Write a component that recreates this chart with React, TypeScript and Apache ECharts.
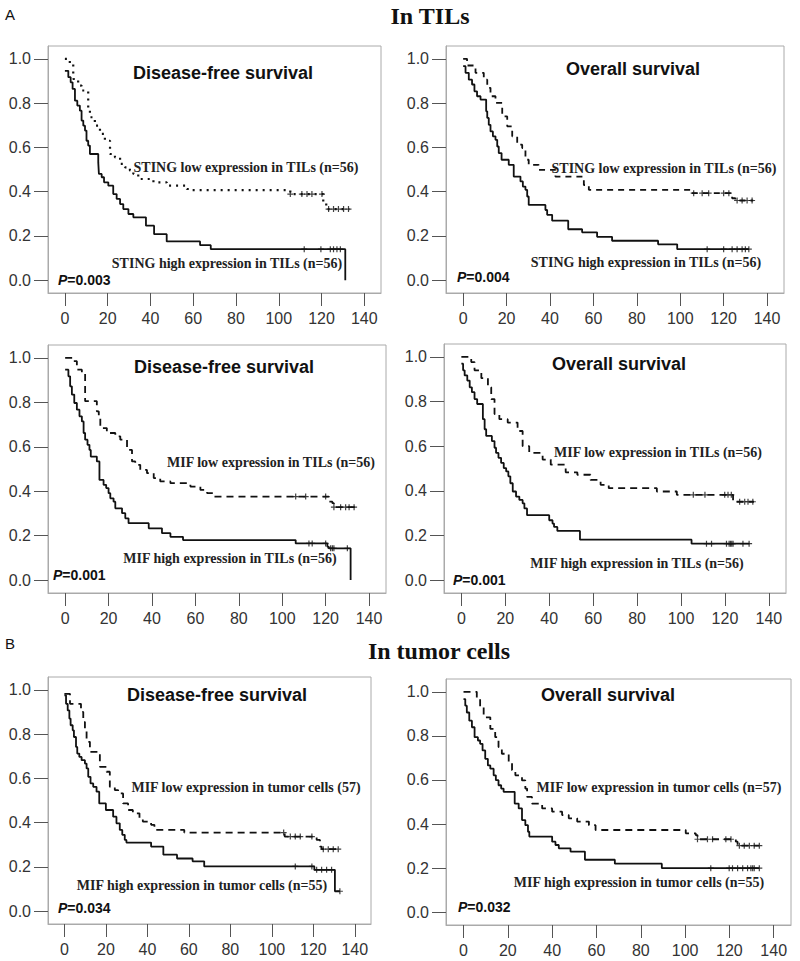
import React, { useEffect, useRef } from "react";
import * as echarts from "echarts";

// ---------- DATA ----------
const xTicks = [0, 20, 40, 60, 80, 100, 120, 140];
const yTicks = [0, 0.2, 0.4, 0.6, 0.8, 1.0];

// Panel 1: DFS, STING in TILs
const dfsStingLow = [[0,1.0],[2.3,0.977],[3.9,0.909],[6.2,0.879],[7.8,0.857],[10.9,0.766],[11.7,0.736],[14,0.698],[16.4,0.661],[18.7,0.630],[21.1,0.570],[23.4,0.555],[25.8,0.525],[28.1,0.510],[30.4,0.495],[32,0.480],[34.3,0.457],[41.4,0.442],[47.6,0.427],[57,0.412],[59.3,0.407],[105.4,0.389],[120.8,0.351],[122.2,0.321],[133.0,0.321]];
const dfsStingHigh = [[0,0.946],[1.6,0.917],[2.7,0.894],[3.6,0.864],[4.7,0.811],[5.8,0.789],[7.0,0.766],[7.8,0.721],[8.6,0.698],[9.4,0.676],[10.1,0.630],[10.9,0.608],[11.7,0.570],[15.6,0.532],[15.9,0.480],[17.2,0.465],[18.3,0.442],[20.3,0.427],[22.6,0.389],[24.2,0.367],[25.8,0.344],[27.3,0.321],[29.7,0.299],[32,0.284],[37.9,0.246],[41.7,0.208],[47.6,0.175],[63.2,0.158],[68.2,0.140],[131.1,0]];
const dfsStingLowCens = [105.4,110.8,113.2,115.5,120.2,123.3,125.6,127.9,130.3,132.6];
const dfsStingHighCens = [111.9,119.7,124.1,125.6,127.2,128.8];

// Panel 2: OS, STING in TILs
const osStingLow = [[0,1.0],[1.8,0.970],[5.7,0.937],[9.5,0.906],[11.1,0.869],[12.6,0.831],[14.9,0.801],[18.0,0.740],[20.3,0.695],[22.6,0.650],[24.9,0.612],[27.2,0.597],[28.7,0.544],[30.2,0.521],[34.8,0.498],[42.5,0.468],[55.6,0.430],[57.9,0.408],[104.7,0.393],[123.9,0.370],[125.4,0.360],[133.6,0.360]];
const osStingHigh = [[0,0.967],[1.1,0.937],[2.6,0.906],[4.1,0.884],[5.2,0.853],[6.4,0.831],[8.0,0.816],[10.6,0.763],[11.1,0.733],[11.8,0.702],[12.6,0.672],[13.7,0.650],[14.9,0.634],[15.7,0.604],[16.4,0.574],[17.7,0.544],[21.0,0.521],[23.3,0.468],[26.4,0.446],[27.5,0.423],[28.7,0.408],[29.5,0.378],[30.2,0.340],[37.9,0.317],[38.7,0.295],[41.0,0.269],[48.4,0.230],[54.8,0.216],[61.7,0.196],[68.6,0.178],[89.8,0.162],[98.6,0.140],[131.6,0.140]];
const osStingLowCens = [106.2,110.1,113.1,120.0,122.4,126.2,128.5,130.8,133.1];
const osStingHighCens = [112.4,120.0,123.9,126.2,128.5,130.0,131.6];

// Panel 3: DFS, MIF in TILs
const dfsMifTilLow = [[0,1.0],[3.8,0.985],[5.4,0.947],[7.7,0.930],[9.2,0.805],[14.6,0.759],[15.5,0.737],[16.2,0.684],[19.2,0.662],[23.1,0.647],[25.4,0.632],[28.5,0.586],[30.8,0.534],[32.3,0.519],[34.6,0.496],[37.7,0.481],[40.8,0.459],[43.8,0.444],[48.5,0.436],[57.7,0.421],[62.3,0.406],[65.4,0.391],[68.5,0.376],[121.5,0.353],[123.1,0.346],[123.8,0.328],[133.6,0.328]];
const dfsMifTilHigh = [[0,0.947],[1.5,0.917],[2.3,0.872],[3.1,0.835],[4.2,0.797],[5.4,0.767],[6.6,0.737],[7.7,0.714],[8.5,0.662],[9.2,0.632],[10.3,0.609],[11.2,0.586],[11.8,0.556],[14.6,0.534],[15.8,0.451],[17.7,0.429],[18.9,0.414],[20.0,0.391],[20.8,0.368],[22.3,0.353],[23.1,0.323],[26.2,0.301],[27.7,0.278],[29.2,0.256],[38.5,0.233],[44.6,0.211],[48.5,0.195],[54.3,0.180],[106.2,0.165],[120.8,0.150],[121.5,0.143],[131.5,0]];
const dfsMifTilLowCens = [106.2,110.8,120.0,123.8,126.9,129.2,130.8,133.1];
const dfsMifTilHighCens = [112.3,113.8,120.0,122.3,123.1,123.8,130.0];

// Panel 4: OS, MIF in TILs
const osMifTilLow = [[0,1.0],[4.5,0.977],[6.0,0.940],[9.1,0.905],[12.1,0.864],[13.6,0.811],[15.1,0.744],[17.3,0.721],[21.1,0.706],[25.6,0.668],[27.9,0.600],[30.9,0.570],[37.0,0.540],[40.7,0.517],[47.5,0.483],[52.8,0.472],[58.8,0.449],[63.4,0.427],[67.1,0.412],[89.0,0.397],[98.1,0.382],[123.7,0.351],[133.2,0.351]];
const osMifTilHigh = [[0,0.970],[0.8,0.940],[1.5,0.917],[2.7,0.894],[3.8,0.864],[4.8,0.842],[6.0,0.811],[7.2,0.789],[9.8,0.721],[10.6,0.676],[11.3,0.646],[13.9,0.623],[15.1,0.593],[15.8,0.570],[16.9,0.548],[18.1,0.525],[19.3,0.502],[20.4,0.487],[21.4,0.465],[22.3,0.434],[23.4,0.397],[24.9,0.374],[26.4,0.359],[27.9,0.344],[28.7,0.321],[29.9,0.291],[40.0,0.268],[41.5,0.253],[42.2,0.238],[43.7,0.220],[54.0,0.181],[104.8,0.163],[131.2,0.163]];
const osMifTilLowCens = [105.6,110.9,119.9,121.4,122.9,126.7,129.0,130.5,132.7];
const osMifTilHighCens = [111.6,113.9,120.7,121.9,122.5,123.1,123.7,128.2,131.0];

// Panel 5: DFS, MIF in tumor cells
const dfsMifTumLow = [[0,0.982],[2.7,0.937],[8.0,0.900],[9.1,0.855],[9.9,0.817],[10.7,0.765],[12.3,0.720],[17.1,0.652],[20.3,0.630],[21.9,0.562],[24.3,0.547],[25.9,0.532],[28.3,0.487],[30.7,0.457],[33.0,0.442],[36.2,0.420],[37.8,0.405],[41.8,0.390],[43.4,0.367],[57.8,0.355],[106.2,0.337],[121.6,0.322],[123.2,0.292],[124.0,0.280],[132.8,0.280]];
const dfsMifTumHigh = [[0,0.975],[0.8,0.937],[1.6,0.907],[2.4,0.870],[3.0,0.840],[4.0,0.817],[4.6,0.787],[5.6,0.742],[6.2,0.712],[7.2,0.697],[8.3,0.682],[9.9,0.667],[10.7,0.645],[11.5,0.607],[12.6,0.577],[13.9,0.562],[15.5,0.540],[16.8,0.487],[20.0,0.457],[23.5,0.427],[25.1,0.397],[26.7,0.367],[27.9,0.345],[29.1,0.322],[29.9,0.310],[41.8,0.292],[47.7,0.255],[54.3,0.238],[61.8,0.225],[67.4,0.202],[120.5,0.187],[130.4,0.090],[132.8,0.090]];
const dfsMifTumLowCens = [105.7,108.9,111.3,113.7,119.3,124.8,127.2,129.6,132.0];
const dfsMifTumHighCens = [111.3,119.3,121.6,124.0,126.4,128.8,132.8];

// Panel 6: OS, MIF in tumor cells
const osMifTumLow = [[0,1.0],[6.0,0.967],[7.5,0.929],[9.1,0.884],[12.1,0.832],[14.3,0.794],[15.8,0.749],[17.3,0.719],[20.4,0.681],[21.9,0.644],[23.4,0.621],[26.4,0.598],[27.9,0.561],[28.7,0.523],[30.9,0.493],[35.5,0.471],[40.0,0.456],[44.5,0.441],[47.5,0.426],[51.3,0.411],[56.6,0.395],[59.6,0.373],[100.3,0.358],[104.8,0.350],[105.6,0.331],[122.9,0.320],[123.7,0.302],[133.5,0.302]];
const osMifTumHigh = [[0,0.967],[0.8,0.937],[1.5,0.906],[2.6,0.869],[3.8,0.839],[5.0,0.794],[6.5,0.779],[7.5,0.764],[8.6,0.734],[9.8,0.696],[11.0,0.666],[12.1,0.651],[13.6,0.621],[14.6,0.599],[15.8,0.576],[17.0,0.561],[18.1,0.546],[23.1,0.493],[24.9,0.471],[26.4,0.418],[27.9,0.395],[29.1,0.365],[29.7,0.343],[40.0,0.320],[41.5,0.305],[43.0,0.290],[48.3,0.275],[54.8,0.238],[68.3,0.220],[89.5,0.200],[133.5,0.200]];
const osMifTumLowCens = [105.6,110.1,112.4,118.4,120.7,124.5,126.7,129.0,131.2,133.5];
const osMifTumHighCens = [111.6,119.9,121.4,123.7,126.0,128.2,129.7,130.5,131.2,133.5];

const panelTitles = ["Disease-free survival","Overall survival","Disease-free survival","Overall survival","Disease-free survival","Overall survival"];
const lowLabels = ["STING low expression in TILs (n=56)","STING low expression in TILs (n=56)","MIF low expression in TILs (n=56)","MIF low expression in TILs (n=56)","MIF low expression in tumor cells (57)","MIF low expression in tumor cells (n=57)"];
const highLabels = ["STING high expression in TILs (n=56)","STING high expression in TILs (n=56)","MIF high expression in TILs (n=56)","MIF high expression in TILs (n=56)","MIF high expression in tumor cells (n=55)","MIF high expression in tumor cells (n=55)"];
const pValues = ["0.003","0.004","0.001","0.001","0.034","0.032"];

// ---------- LAYOUT ----------
const grids = [
  { left: 48, top: 46, width: 333, height: 247 },
  { left: 446, top: 46, width: 338, height: 247 },
  { left: 48, top: 345, width: 338, height: 248 },
  { left: 444, top: 344, width: 342, height: 249 },
  { left: 48, top: 677, width: 323, height: 247 },
  { left: 446, top: 679, width: 345, height: 246 },
];
const titlePos = [[223, 73],[633, 69],[224, 367],[619, 364],[217, 695],[608, 695]];
const lowPos = [[246, 167],[664, 168],[271, 462],[658, 452],[246, 787],[659, 787]];
const highPos = [[227, 263],[646, 262],[230, 558],[637, 563],[202, 885],[639, 882]];
const pPos = [[58, 280],[457, 277],[53, 575],[453, 580],[58, 908],[458, 907]];
const dashes: any[] = [[2, 5], [6, 5], [7, 5], [7, 5], [7, 5], [7, 5]];

const panels = [
  [dfsStingLow, dfsStingHigh, dfsStingLowCens, dfsStingHighCens],
  [osStingLow, osStingHigh, osStingLowCens, osStingHighCens],
  [dfsMifTilLow, dfsMifTilHigh, dfsMifTilLowCens, dfsMifTilHighCens],
  [osMifTilLow, osMifTilHigh, osMifTilLowCens, osMifTilHighCens],
  [dfsMifTumLow, dfsMifTumHigh, dfsMifTumLowCens, dfsMifTumHighCens],
  [osMifTumLow, osMifTumHigh, osMifTumLowCens, osMifTumHighCens],
] as any[];

function survAt(curve: number[][], t: number) {
  let s = curve[0][1];
  for (const [ti, si] of curve) if (ti <= t) s = si;
  return s;
}

const SANS = '"Liberation Sans", Arial, sans-serif';
const SERIF = '"Liberation Serif", "Times New Roman", serif';
const plus = "path://M4,0H6V4H10V6H6V10H4V6H0V4H4Z";

export default function App() {
  const ref = useRef<HTMLDivElement>(null);
  useEffect(() => {
    document.body.style.margin = "0";
    const chart = echarts.init(ref.current!, null, { renderer: "svg" });
    const gridOpt = grids.map((g) => ({ ...g, show: true, borderColor: "#aaa", borderWidth: 1, backgroundColor: "#fff" }));
    const xAxis = grids.map((_, i) => ({
      type: "value", gridIndex: i, min: -7.9, max: 147.8,
      splitLine: { show: false },
      axisLine: { show: true, onZero: false, lineStyle: { color: "#aaa" } },
      axisTick: { show: true, customValues: xTicks, length: 13, lineStyle: { color: "#555", width: 1 } },
      axisLabel: { customValues: xTicks, margin: 17, fontSize: 16, color: "#333", fontFamily: SANS },
    }));
    const yAxis = grids.map((_, i) => ({
      type: "value", gridIndex: i, min: -0.058, max: 1.058,
      splitLine: { show: false },
      axisLine: { show: true, onZero: false, lineStyle: { color: "#aaa" } },
      axisTick: { show: true, customValues: yTicks, length: 14, lineStyle: { color: "#555", width: 1 } },
      axisLabel: { customValues: yTicks, margin: 17, fontSize: 16, color: "#333", fontFamily: SANS, formatter: (v: number) => v.toFixed(1) },
    }));
    const series: any[] = [];
    panels.forEach((p: any[], i: number) => {
      const [low, high, lowC, highC] = p;
      series.push({ type: "line", xAxisIndex: i, yAxisIndex: i, data: low, step: "end", symbol: "none", lineStyle: { color: "#111", width: i === 0 ? 2.2 : 1.8, type: dashes[i] } });
      series.push({ type: "line", xAxisIndex: i, yAxisIndex: i, data: high, step: "end", symbol: "none", lineStyle: { color: "#111", width: 1.8 } });
      series.push({ type: "scatter", xAxisIndex: i, yAxisIndex: i, data: lowC.map((t: number) => [t, survAt(low, t)]), symbol: plus, symbolSize: 6, itemStyle: { color: "#111" } });
      series.push({ type: "scatter", xAxisIndex: i, yAxisIndex: i, data: highC.map((t: number) => [t, survAt(high, t)]), symbol: plus, symbolSize: 6, itemStyle: { color: "#111" } });
    });
    const txt = (x: number, y: number, text: string, font: string, align = "center", extra: any = {}) => ({
      type: "text", x, y, z: 100,
      style: { text, font, fill: "#111", textAlign: align, textVerticalAlign: "middle", align, verticalAlign: "middle", ...extra },
    });
    const graphic: any[] = [
      txt(5, 14, "A", `15px ${SANS}`, "left"),
      txt(430, 16, "In TILs", `bold 24px ${SERIF}`),
      txt(5, 643, "B", `15px ${SANS}`, "left"),
      txt(439, 651, "In tumor cells", `bold 24px ${SERIF}`),
    ];
    for (let i = 0; i < 6; i++) {
      graphic.push(txt(titlePos[i][0], titlePos[i][1], panelTitles[i], `bold 18px ${SANS}`));
      graphic.push(txt(lowPos[i][0], lowPos[i][1], lowLabels[i], `bold 14px ${SERIF}`, "center", { fill: "#222" }));
      graphic.push(txt(highPos[i][0], highPos[i][1], highLabels[i], `bold 14px ${SERIF}`, "center", { fill: "#222" }));
      graphic.push({
        type: "text", x: pPos[i][0], y: pPos[i][1], z: 100,
        style: {
          text: `{i|P}{b|=${pValues[i]}}`, textVerticalAlign: "middle", verticalAlign: "middle",
          rich: {
            i: { fontStyle: "italic", fontWeight: "bold", fontSize: 14, fontFamily: SANS, fill: "#111", color: "#111" },
            b: { fontWeight: "bold", fontSize: 14, fontFamily: SANS, fill: "#111", color: "#111" },
          },
        },
      });
    }
    chart.setOption({
      animation: false,
      backgroundColor: "#fff",
      grid: gridOpt,
      xAxis, yAxis, series, graphic,
    });
    return () => chart.dispose();
  }, []);
  return <div ref={ref} style={{ width: 800, height: 961 }} />;
}
